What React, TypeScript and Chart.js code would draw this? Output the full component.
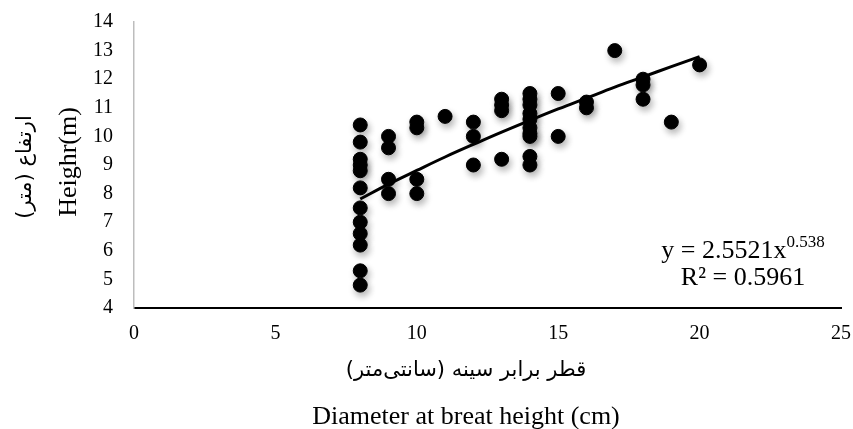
import React, { useEffect, useRef } from "react";
import { Chart, registerables } from "chart.js";

Chart.register(...registerables);

const diameters = [
  8, 8, 8, 8, 8, 8, 8, 8, 8, 8, 8, 8,
  9, 9, 9, 9,
  10, 10, 10, 10,
  11,
  12, 12, 12,
  13, 13, 13, 13,
  14, 14, 14, 14, 14, 14, 14, 14, 14, 14,
  15, 15,
  16, 16,
  17,
  18, 18, 18,
  19,
  20,
];
const heights = [
  10.4, 9.8, 9.2, 9.0, 8.8, 8.2, 7.5, 7.0, 6.6, 6.2, 5.3, 4.8,
  10.0, 9.6, 8.5, 8.0,
  10.5, 10.3, 8.5, 8.0,
  10.7,
  10.5, 10.0, 9.0,
  11.3, 11.1, 10.9, 9.2,
  11.5, 11.3, 11.1, 10.8, 10.6, 10.3, 10.1, 10.0, 9.3, 9.0,
  11.5, 10.0,
  11.2, 11.0,
  13.0,
  12.0, 11.8, 11.3,
  10.5,
  12.5,
];
const trendX = [8, 9, 10, 11, 12, 13, 14, 15, 16, 17, 18, 19, 20];
const trendY = [7.81, 8.33, 8.81, 9.28, 9.72, 10.15, 10.56, 10.96, 11.34, 11.72, 12.08, 12.44, 12.79];

const xTitleFa = "قطر برابر سینه (سانتی‌متر)";
const xTitleEn = "Diameter at breat height (cm)";
const yTitleFa = "ارتفاع (متر)";
const yTitleEn = "Heighr(m)";
const eqMain = "y = 2.5521x";
const eqExp = "0.538";
const eqR2 = "R² = 0.5961";

const FONT = "'Liberation Serif', 'Times New Roman', serif";
const FA_FONT = "'DejaVu Sans', 'Noto Sans', sans-serif";

export default function App() {
  const ref = useRef<HTMLCanvasElement | null>(null);
  useEffect(() => {
    document.body.style.margin = "0";
    const canvas = ref.current!;
    const shadowPlugin = {
      id: "shadow",
      beforeDatasetDraw(chart: any, args: any) {
        if (args.index === 0) {
          const ctx = chart.ctx;
          ctx.save();
          ctx.shadowColor = "rgba(0,0,0,0.3)";
          ctx.shadowBlur = 7;
          ctx.shadowOffsetX = 2;
          ctx.shadowOffsetY = 4;
        }
      },
      afterDatasetDraw(chart: any, args: any) {
        if (args.index === 0) chart.ctx.restore();
      },
    };
    const textPlugin = {
      id: "texts",
      afterDraw(chart: any) {
        const ctx = chart.ctx;
        const area = chart.chartArea;
        ctx.save();
        ctx.fillStyle = "#000";
        // equation
        ctx.textBaseline = "alphabetic";
        ctx.font = `26px ${FONT}`;
        const w1 = ctx.measureText(eqMain).width;
        ctx.font = `17px ${FONT}`;
        const w2 = ctx.measureText(eqExp).width;
        const cx = 743;
        const x0 = cx - (w1 + w2) / 2;
        ctx.textAlign = "left";
        ctx.font = `26px ${FONT}`;
        ctx.fillText(eqMain, x0, 258);
        ctx.font = `17px ${FONT}`;
        ctx.fillText(eqExp, x0 + w1, 247);
        ctx.font = `26px ${FONT}`;
        ctx.textAlign = "center";
        ctx.fillText(eqR2, cx, 285);
        // x titles
        ctx.textBaseline = "middle";
        ctx.font = `21px ${FA_FONT}`;
        ctx.fillText(xTitleFa, 466, 371);
        ctx.textBaseline = "alphabetic";
        ctx.font = `26px ${FONT}`;
        ctx.fillText(xTitleEn, 466, 424);
        // y titles
        const cy = (area.top + area.bottom) / 2;
        ctx.save();
        ctx.translate(26, cy + 2);
        ctx.rotate(-Math.PI / 2);
        ctx.textBaseline = "middle";
        ctx.font = `21px ${FA_FONT}`;
        ctx.fillText(yTitleFa, 0, 0);
        ctx.restore();
        ctx.save();
        ctx.translate(76, cy - 3);
        ctx.rotate(-Math.PI / 2);
        ctx.textBaseline = "alphabetic";
        ctx.font = `26px ${FONT}`;
        ctx.fillText(yTitleEn, 0, 0);
        ctx.restore();
        ctx.restore();
      },
    };
    const chart = new Chart(canvas, {
      type: "scatter",
      data: {
        datasets: [
          {
            data: diameters.map((d, i) => ({ x: d, y: heights[i] })),
            backgroundColor: "#000",
            borderColor: "#000",
            pointRadius: 7,
            pointHoverRadius: 7,
          },
          {
            type: "line",
            data: trendX.map((d, i) => ({ x: d, y: trendY[i] })),
            borderColor: "#000",
            borderWidth: 3,
            pointRadius: 0,
            tension: 0.4,
            fill: false,
          } as any,
        ],
      },
      options: {
        animation: false,
        responsive: false,
        layout: { padding: { top: 22, right: 12, left: 0, bottom: 0 } },
        plugins: { legend: { display: false }, tooltip: { enabled: false } },
        scales: {
          x: {
            type: "linear",
            min: 0,
            max: 25,
            afterFit: (s: any) => {
              s.height = 121;
              s.paddingLeft = 0;
              s.paddingRight = 0;
            },
            ticks: { stepSize: 5, color: "#000", font: { family: FONT, size: 20 }, padding: 14 },
            grid: { display: false, drawTicks: false },
            border: { color: "#000", width: 2 },
          },
          y: {
            min: 4,
            max: 14,
            afterFit: (s: any) => {
              s.width = 134;
              s.paddingTop = 0;
              s.paddingBottom = 0;
            },
            ticks: { stepSize: 1, color: "#000", font: { family: FONT, size: 20 }, padding: 21 },
            grid: { display: false, drawTicks: false },
            border: { color: "#bdbdbd", width: 1.5 },
          },
        },
      },
      plugins: [shadowPlugin, textPlugin],
    });
    return () => chart.destroy();
  }, []);
  return (
    <div style={{ width: 853, height: 429 }}>
      <canvas ref={ref} width={853} height={429} />
    </div>
  );
}
